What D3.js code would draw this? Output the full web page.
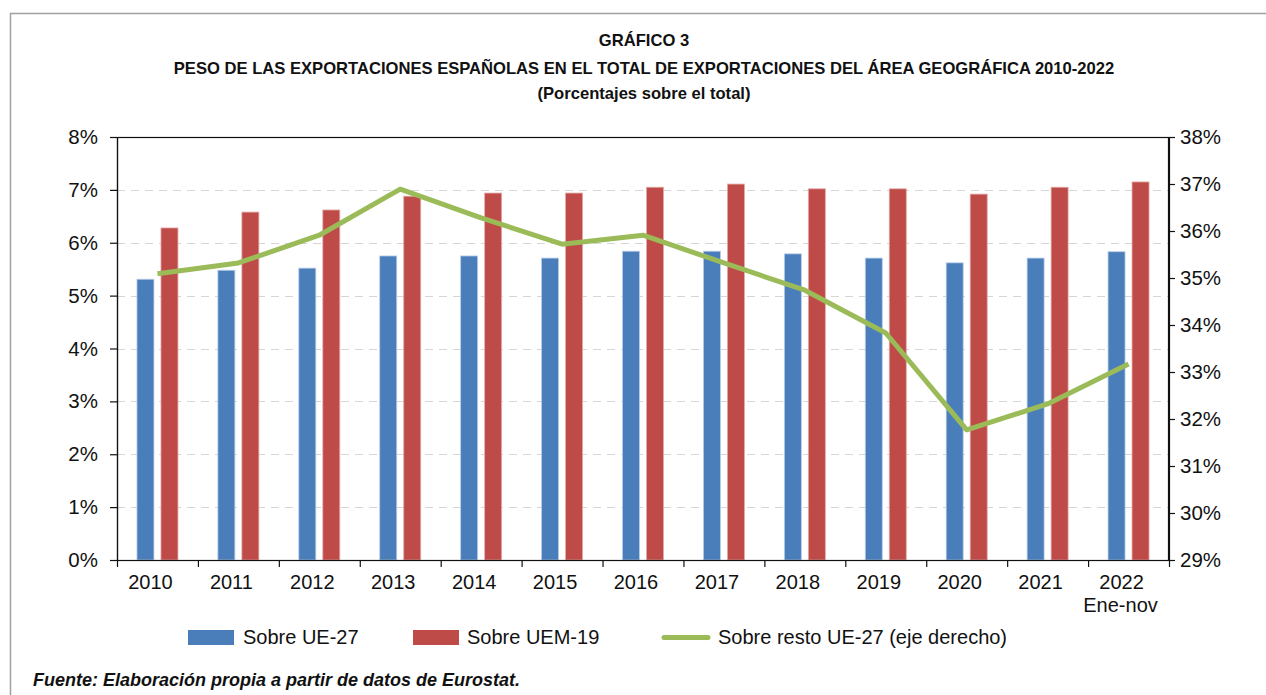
<!DOCTYPE html>
<html>
<head>
<meta charset="utf-8">
<script src="https://cdn.jsdelivr.net/npm/d3@7"></script>
<style>
  body { margin: 0; background: #fff; }
  svg text { font-family: "Liberation Sans", Arial, Helvetica, sans-serif; fill: #111; }
</style>
</head>
<body>
<svg id="chart" width="1266" height="695"></svg>
<script>
const years = ['2010', '2011', '2012', '2013', '2014', '2015', '2016', '2017', '2018', '2019', '2020', '2021', '2022'];
const ue27 = [5.31, 5.48, 5.52, 5.75, 5.75, 5.71, 5.84, 5.84, 5.79, 5.71, 5.62, 5.71, 5.83];
const uem19 = [6.28, 6.58, 6.62, 6.88, 6.94, 6.94, 7.05, 7.11, 7.02, 7.02, 6.92, 7.05, 7.15];
const restoUe27 = [35.09, 35.32, 35.91, 36.89, 36.28, 35.72, 35.91, 35.32, 34.74, 33.83, 31.77, 32.32, 33.17];
const leftTicks = [0, 1, 2, 3, 4, 5, 6, 7, 8];
const rightTicks = [29, 30, 31, 32, 33, 34, 35, 36, 37, 38];

const svg = d3.select('#chart');
const margin = { left: 117, right: 1169, top: 137, bottom: 560 };

// outer frame lines
svg.append('line').attr('x1', 10).attr('x2', 1266).attr('y1', 13.5).attr('y2', 13.5)
    .attr('stroke', '#a0a0a0').attr('stroke-width', 1.5);
svg.append('line').attr('x1', 10.5).attr('x2', 10.5).attr('y1', 13).attr('y2', 695)
    .attr('stroke', '#a0a0a0').attr('stroke-width', 1.5);

// titles
const titles = [
    ['GRÁFICO 3', 46],
    ['PESO DE LAS EXPORTACIONES ESPAÑOLAS EN EL TOTAL DE EXPORTACIONES DEL ÁREA GEOGRÁFICA 2010-2022', 74],
    ['(Porcentajes sobre el total)', 99]
];
titles.forEach(([t, y]) => {
    svg.append('text').attr('x', 644).attr('y', y).attr('text-anchor', 'middle')
        .style('font-size', '16.6px').style('font-weight', 'bold').text(t);
});

const x = d3.scaleBand().domain(years).range([margin.left, margin.right]);
const y = d3.scaleLinear().domain([0, 8]).range([margin.bottom, margin.top]);
const y2 = d3.scaleLinear().domain([29, 38]).range([margin.bottom, margin.top]);

const plot = svg.append('g');

// gridlines
plot.selectAll('.grid')
    .data(leftTicks.slice(1, -1))
    .enter()
    .append('line')
    .attr('class', 'grid')
    .attr('x1', margin.left).attr('x2', margin.right)
    .attr('y1', d => Math.round(y(d)) + 0.5).attr('y2', d => Math.round(y(d)) + 0.5)
    .attr('stroke', '#d6d6d6').attr('stroke-width', 1)
    .attr('stroke-dasharray', '8,6');

const barW = 17;
const offset = 12;

plot.selectAll('.bar-ue')
    .data(ue27)
    .enter()
    .append('rect')
    .attr('class', 'bar-ue')
    .attr('x', (d, i) => x(years[i]) + x.bandwidth() / 2 - offset - barW / 2)
    .attr('y', d => y(d))
    .attr('width', barW)
    .attr('height', d => y(0) - y(d))
    .style('fill', '#4a7ebb')
    .style('stroke', '#b9cde8')
    .style('stroke-width', 0.8);

plot.selectAll('.bar-uem')
    .data(uem19)
    .enter()
    .append('rect')
    .attr('class', 'bar-uem')
    .attr('x', (d, i) => x(years[i]) + x.bandwidth() / 2 + offset - barW / 2)
    .attr('y', d => y(d))
    .attr('width', barW)
    .attr('height', d => y(0) - y(d))
    .style('fill', '#be4b48')
    .style('stroke', '#e4aaa8')
    .style('stroke-width', 0.8);

const line = d3.line()
    .x((d, i) => x(years[i]) + x.bandwidth() / 2)
    .y(d => y2(d));

plot.append('path')
    .datum(restoUe27)
    .attr('d', line)
    .attr('fill', 'none')
    .attr('stroke', '#9bbb59')
    .attr('stroke-width', 5)
    .attr('stroke-linejoin', 'round');

// plot frame
svg.append('rect')
    .attr('x', margin.left + 0.5).attr('y', margin.top + 0.5)
    .attr('width', margin.right - margin.left - 1).attr('height', margin.bottom - margin.top)
    .attr('fill', 'none').attr('stroke', '#111').attr('stroke-width', 1.2);

// axes
const leftAxis = svg.append('g')
    .attr('transform', `translate(${margin.left},0)`)
    .call(d3.axisLeft(y).tickValues(leftTicks).tickFormat(d => d + '%').tickSize(7).tickSizeOuter(0).tickPadding(12));

const rightAxis = svg.append('g')
    .attr('transform', `translate(${margin.right},0)`)
    .call(d3.axisRight(y2).tickValues(rightTicks).tickFormat(d => d + '%').tickSize(6).tickSizeOuter(0).tickPadding(5));

const xTicks = d3.scaleLinear().domain([0, years.length]).range([margin.left, margin.right]);
const bottomAxis = svg.append('g')
    .attr('transform', `translate(0,${margin.bottom})`)
    .call(d3.axisBottom(xTicks).tickValues(d3.range(years.length + 1)).tickFormat('').tickSize(7).tickSizeOuter(0));

[leftAxis, rightAxis, bottomAxis].forEach(g => {
    g.select('.domain').attr('stroke', '#111').attr('stroke-width', 1.2);
    g.selectAll('.tick line').attr('stroke', '#111').attr('stroke-width', 1.2);
    g.selectAll('text').style('font-size', '20.5px').style('fill', '#111').attr('font-family', null);
});

// year labels sit a little left of the category centre in the original
svg.append('g').selectAll('text')
    .data(years)
    .enter()
    .append('text')
    .attr('x', d => x(d) + x.bandwidth() / 2 - 7)
    .attr('y', 589)
    .attr('text-anchor', 'middle')
    .style('font-size', '20px')
    .text(d => d);

svg.append('text')
    .attr('x', x('2022') + x.bandwidth() / 2 - 8)
    .attr('y', 612)
    .attr('text-anchor', 'middle')
    .style('font-size', '20px')
    .text('Ene-nov');

// legend
const legend = svg.append('g');
legend.append('rect').attr('x', 188).attr('y', 630).attr('width', 46).attr('height', 15).style('fill', '#4a7ebb');
legend.append('text').attr('x', 243).attr('y', 644).style('font-size', '20px').text('Sobre UE-27');
legend.append('rect').attr('x', 413).attr('y', 630).attr('width', 46).attr('height', 15).style('fill', '#be4b48');
legend.append('text').attr('x', 467).attr('y', 644).style('font-size', '20px').text('Sobre UEM-19');
legend.append('line').attr('x1', 664).attr('x2', 708).attr('y1', 637.5).attr('y2', 637.5)
    .attr('stroke', '#9bbb59').attr('stroke-width', 5).attr('stroke-linecap', 'round');
legend.append('text').attr('x', 718).attr('y', 644).style('font-size', '20px').text('Sobre resto UE-27 (eje derecho)');

svg.append('text')
    .attr('x', 33).attr('y', 686)
    .style('font-size', '18px').style('font-weight', 'bold').style('font-style', 'italic')
    .text('Fuente: Elaboración propia a partir de datos de Eurostat.');
</script>
</body>
</html>
